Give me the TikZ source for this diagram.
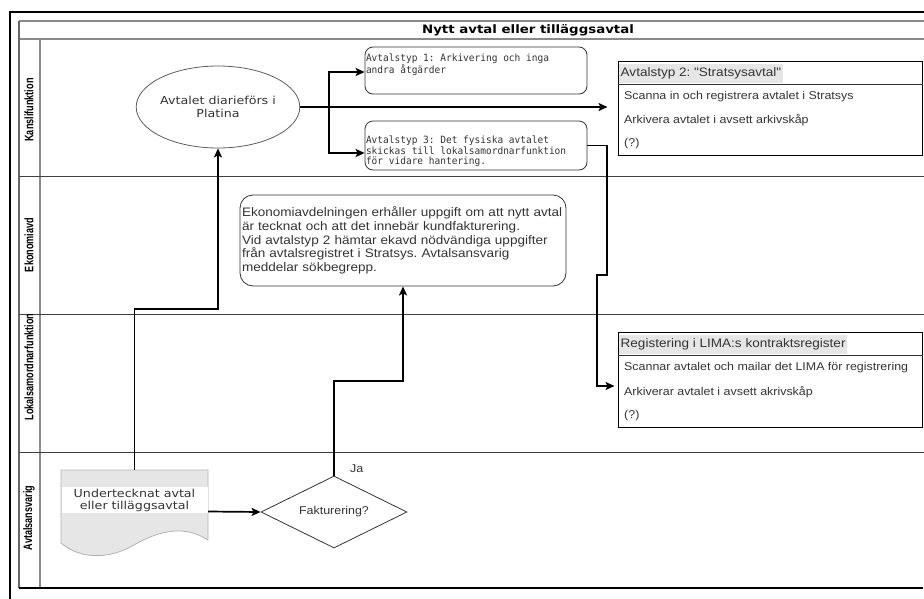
\documentclass[tikz,border=0pt]{standalone}
\usepackage{fontspec}
\setmainfont{Liberation Sans}
\newfontfamily\ari[FakeStretch=1.1]{Liberation Sans}
\newfontfamily\verd[FakeStretch=1.15]{DejaVu Sans}
\newfontfamily\mono[FakeStretch=0.95]{DejaVu Sans Mono}
\newfontfamily\narrow[FakeStretch=0.74]{Liberation Sans}
\usetikzlibrary{arrows.meta,shapes.geometric}
\definecolor{txt}{HTML}{333333}
\definecolor{hdrfill}{HTML}{E6E6E6}
\definecolor{docfill}{HTML}{E6E6E6}
\definecolor{docline}{HTML}{B3B3B3}
\definecolor{poolline}{HTML}{8A8A8A}
\definecolor{laneline}{HTML}{404040}
\definecolor{shapeline}{HTML}{333333}
\frenchspacing
\begin{document}
\begin{tikzpicture}[x=1pt,y=-1pt,
  every node/.style={inner sep=0pt,text=txt},
  conn/.style={draw=black,line width=1.7pt,-{Stealth[length=9pt,width=8pt,inset=2pt]}},
  lanelab/.style={rotate=90,text=black,font=\narrow\bfseries\fontsize{12.3}{13}\selectfont},
  rbox/.style={draw=shapeline,line width=0.8pt,rounded corners=8pt,inner xsep=1pt,inner ysep=2pt,
    font=\mono\fontsize{10}{10.7}\selectfont},
  ebox/.style={draw=shapeline,line width=0.8pt,rounded corners=13pt,minimum width=326pt,minimum height=91pt,
    text width=322pt,align=left,inner sep=2pt,font=\ari\fontsize{12.3}{13.6}\selectfont},
  sbox/.style={draw=black,line width=1pt,minimum width=304pt,minimum height=94pt},
  hdr/.style={fill=hdrfill,inner xsep=1.5pt,minimum height=19pt,font=\ari\fontsize{12.3}{14}\selectfont},
  item/.style={font=\ari\fontsize{11.3}{13}\selectfont},
  ell/.style={ellipse,draw=shapeline!80,line width=0.8pt,minimum width=148pt,minimum height=82pt,
    align=center,font=\verd\fontsize{11}{13}\selectfont},
  dec/.style={diamond,draw=shapeline,line width=0.8pt,aspect=2.03,minimum width=146pt,minimum height=72pt,
    font=\ari\fontsize{11.3}{13}\selectfont},
  doclab/.style={fill=white,minimum width=146pt,minimum height=26pt,align=center,
    font=\verd\fontsize{11}{12}\selectfont}
]
\useasboundingbox (0,0) rectangle (924,598);
\begin{scope}
\clip (0,0) rectangle (924,598);
% outer frame
\draw[black,line width=1.8pt] (10,600) -- (10,12) -- (930,12);
% pool
\draw[poolline,line width=1.5pt] (19,21) -- (930,21);
\draw[poolline,line width=1.5pt] (19,39) -- (930,39);
\draw[laneline!80,line width=1.2pt] (19,21) -- (19,588);
\draw[poolline,line width=1.2pt] (40,39) -- (40,588);
\draw[laneline,line width=1pt] (19,176) -- (930,176);
\draw[laneline,line width=1pt] (19,314) -- (930,314);
\draw[laneline,line width=1pt] (19,452) -- (930,452);
\draw[black,line width=1.2pt] (19,588) -- (923,588);
\end{scope}
\node[font=\verd\bfseries\fontsize{11.6}{13}\selectfont,text=black] (title) at (528,30) {Nytt avtal eller tilläggsavtal};
% lane labels
\node[lanelab] (lane1) at (29,110) {Kanslifunktion};
\node[lanelab] (lane2) at (29,245) {Ekonomiavd};
\node[lanelab] (lane3) at (29,367) {Lokalsamordnarfunktion};
\node[lanelab] (lane4) at (29,518) {Avtalsansvarig};
% shapes
\node[ell] (ell) at (218,107) {Avtalet diarieförs i\\Platina};
\node[rbox] (box1) at (476,70.5) {\parbox[c][43pt][t]{220pt}{\vspace*{5pt}Avtalstyp 1: Arkivering och inga\\andra åtgärder}};
\node[rbox] (box3) at (476,145.5) {\parbox[c][45pt][b]{220pt}{Avtalstyp 3: Det fysiska avtalet\\skickas till lokalsamordnarfunktion\\för vidare hantering.\vspace*{1pt}}};
\node[sbox] (box2) at (770,108) {};
\draw[shapeline,line width=0.8pt] (box2.west |- 0,84) -- (box2.east |- 0,84);
\node[hdr,anchor=west] (box2h) at (619,73) {Avtalstyp 2: "Stratsysavtal"};
\node[item,anchor=west] (box2a) at (624,97) {Scanna in och registrera avtalet i Stratsys};
\node[item,anchor=west] (box2b) at (624,120.5) {Arkivera avtalet i avsett arkivskåp};
\node[item,anchor=west] (box2c) at (624,144) {(?)};
\node[ebox] (eko) at (403,240.5) {Ekonomiavdelningen erhåller uppgift om att nytt avtal\\är tecknat och att det innebär kundfakturering.\\Vid avtalstyp 2 hämtar ekavd nödvändiga uppgifter\\från avtalsregistret i Stratsys. Avtalsansvarig\\meddelar sökbegrepp.};
\node[sbox,minimum height=95pt] (lima) at (770,379.5) {};
\draw[shapeline,line width=0.8pt] (lima.west |- 0,355) -- (lima.east |- 0,355);
\node[hdr,anchor=west] (limah) at (619,344) {Registering i LIMA:s kontraktsregister};
\node[item,anchor=west] (limaa) at (624,368) {Scannar avtalet och mailar det LIMA för registrering};
\node[item,anchor=west] (limab) at (624,392) {Arkiverar avtalet i avsett akrivskåp};
\node[item,anchor=west] (limac) at (624,416) {(?)};
% document
\node[minimum width=147pt,minimum height=83pt] (doc) at (134.5,511.5) {};
\path[fill=docfill,draw=docline,line width=0.8pt] (61,470) -- (208,470) -- (208,540)
  .. controls (185,525) and (160,530) .. (134,545)
  .. controls (108,560) and (80,559) .. (61,543) -- cycle;
\node[doclab] (doctext) at (134.5,500) {Undertecknat avtal\\eller tilläggsavtal};
\node[dec] (dia) at (334,512) {Fakturering?};
\node[font=\ari\fontsize{11.3}{13}\selectfont,anchor=west] (ja) at (350,469) {Ja};
% connectors
\coordinate (j1) at (134.5,309);
\coordinate (j2) at (334,381);
\coordinate (j3) at (329,107);
\coordinate (k1) at (607,145.5);
\coordinate (k2) at (607,275);
\coordinate (k3) at (597,275);
\draw[conn] (doc.north) -- (j1) -| (ell.south);
\draw[conn] (doc.east) -- (dia.west);
\draw[conn] (dia.north) -- (j2) -| (eko.south);
\draw[conn,shorten >=10pt] (ell.east) -- (ell.east -| box2.west);
\draw[conn] (j3) |- ([yshift=-1.5pt]box1.west);
\draw[conn] (j3) |- ([yshift=-7.5pt]box3.west);
\draw[conn,shorten >=3pt] (box3.east) -- (k1) -- (k2) -- (k3) |- ([yshift=-6.5pt]lima.west);
\end{tikzpicture}
\end{document}
